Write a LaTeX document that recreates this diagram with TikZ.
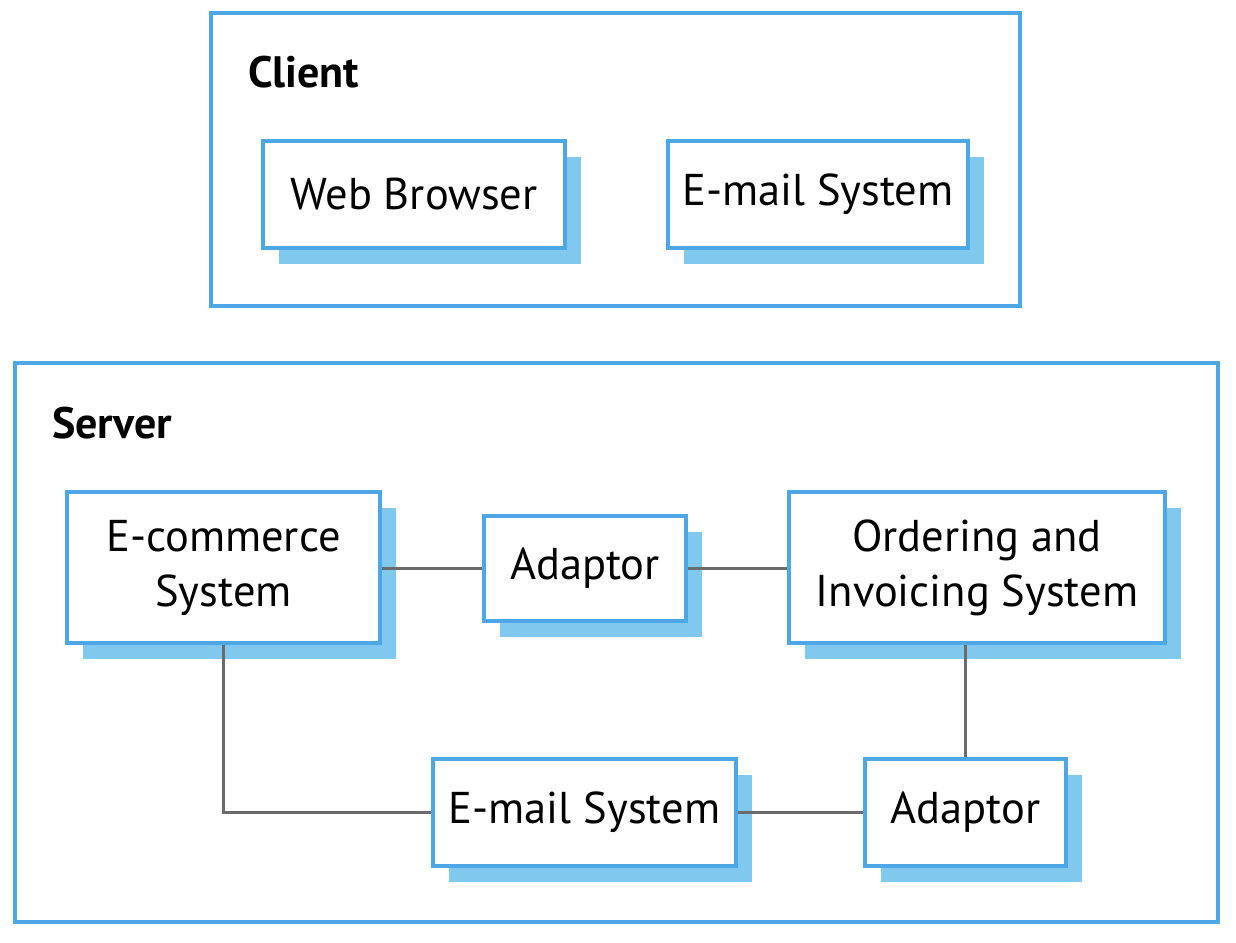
\documentclass[tikz,border=0pt]{standalone}
\usepackage{fontspec}
\setmainfont{PT Sans}
\usetikzlibrary{shadows}
\definecolor{boxblue}{HTML}{4DA6E6}
\definecolor{shadowblue}{HTML}{80C8EE}
\definecolor{linegray}{HTML}{6B6B6B}
\tikzset{
  frame/.style={draw=boxblue, line width=4pt},
  comp/.style={draw=boxblue, line width=4pt, fill=white, inner sep=0pt, align=center,
    font=\fontsize{44.5}{55}\selectfont,
    drop shadow={shadow xshift=16pt, shadow yshift=-16pt, fill=shadowblue, opacity=1}},
  heading/.style={font=\bfseries\fontsize{44}{50}\selectfont, anchor=base west, inner sep=0pt},
  link/.style={draw=linegray, line width=2.5pt}
}
\begin{document}
\begin{tikzpicture}[x=1pt,y=-1pt]
\useasboundingbox (0,0) rectangle (1236,942);
% containers
\draw[frame] (211,13) rectangle (1020,306);
\node[heading] (client) at (248,88) {Client};
\draw[frame] (15,363) rectangle (1218,922);
\node[heading] (server) at (52,438) {Server};
% client components
\node[comp, minimum width=302pt, minimum height=107pt] (web) at (414,194.5) {Web Browser};
\node[comp, minimum width=300pt, minimum height=107pt] (cmail) at (818,194.5) {E-mail System};
% server components
\node[comp, minimum width=313pt, minimum height=151pt] (ecom) at (223.5,567.5) {E-commerce\\System};
\node[comp, minimum width=202pt, minimum height=105pt] (ad1) at (585,568.5) {Adaptor};
\node[comp, minimum width=376pt, minimum height=151pt] (ord) at (977,567.5) {Ordering and\\Invoicing System};
\node[comp, minimum width=303pt, minimum height=107pt] (smail) at (584.5,812.5) {E-mail System};
\node[comp, minimum width=201pt, minimum height=107pt] (ad2) at (965.5,812.5) {Adaptor};
% connectors
\coordinate (c1) at (ecom.south |- smail.west);
\draw[link] (ecom.east |- ad1.west) -- (ad1.west);
\draw[link] (ad1.east) -- (ord.west |- ad1.east);
\draw[link] (ord.south -| ad2.north) -- (ad2.north);
\draw[link] (ecom.south) -- (c1) -- (smail.west);
\draw[link] (smail.east) -- (ad2.west);
\end{tikzpicture}
\end{document}
